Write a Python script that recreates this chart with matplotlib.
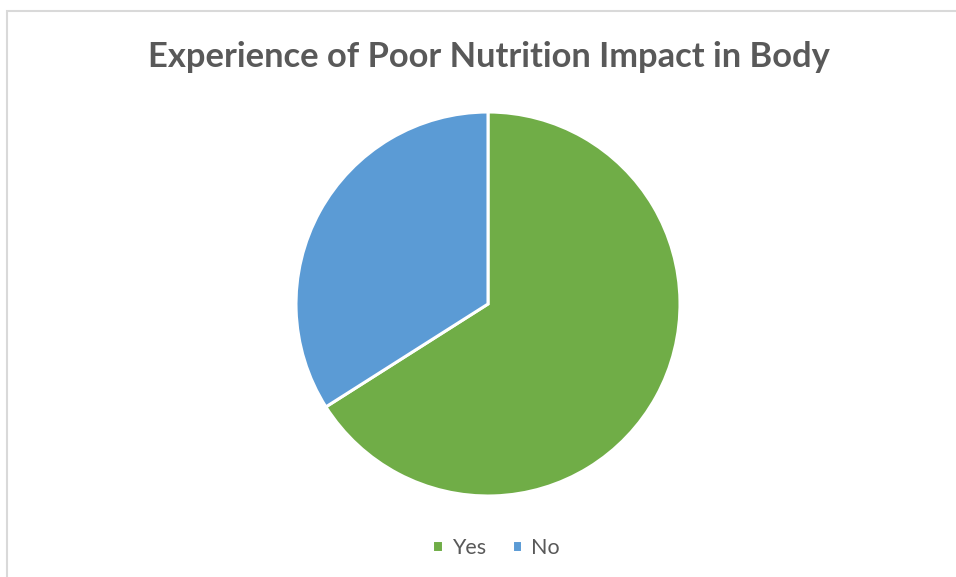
import matplotlib.pyplot as plt
from matplotlib.patches import Rectangle

labels = ['Yes', 'No']
values = [66, 34]
colors = ['#70ad47', '#5b9bd5']

W, H = 956, 577
fig = plt.figure(figsize=(W / 100, H / 100), dpi=100)

# light gray chart border (left and top visible)
fig.patches.append(Rectangle((7 / W, -0.05), 1.2, (H - 11) / H + 0.05,
                             transform=fig.transFigure, fill=False,
                             edgecolor='#d9d9d9', linewidth=1.5))

# pie axes: center (488, 304), radius ~192 px
r = 192
ax = fig.add_axes([(488 - r) / W, (H - 304 - r) / H, 2 * r / W, 2 * r / H])
wedges, _ = ax.pie(values, colors=colors, startangle=90, counterclock=False,
                   wedgeprops=dict(edgecolor='white', linewidth=2.2))
ax.set_xlim(-1, 1)
ax.set_ylim(-1, 1)
ax.set_aspect('equal')

fig.text(489 / W, 1 - 57 / H, 'Experience of Poor Nutrition Impact in Body',
         ha='center', va='center', fontsize=24.8, fontweight='bold',
         color='#595959', family='Lato')

leg = fig.legend(wedges, labels, loc='center', bbox_to_anchor=(496 / W, 1 - 548 / H),
                 ncol=2, frameon=False, handlelength=0.5, handleheight=0.5,
                 handletextpad=0.4, columnspacing=1.2,
                 prop={'family': 'Lato', 'size': 15.5})
for t in leg.get_texts():
    t.set_color('#595959')

fig.savefig('out.png', dpi=100)
